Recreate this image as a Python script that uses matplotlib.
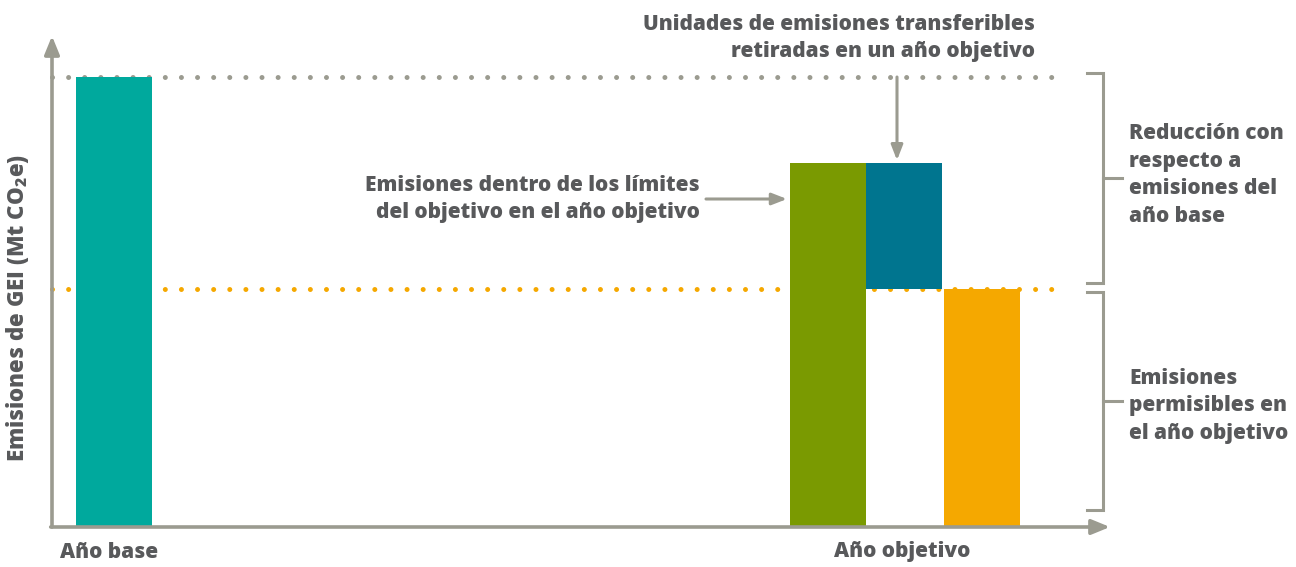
import matplotlib
matplotlib.use("Agg")
import matplotlib.pyplot as plt

plt.rcParams['font.family'] = ['Open Sans', 'DejaVu Sans']
plt.rcParams['mathtext.default'] = 'regular'

# ---- data ----
categories = ["Año base", "Año objetivo"]
base_emissions = 100.0          # año base
within_limits = 81.0            # emisiones dentro de los límites del objetivo
allowed_emissions = 53.0        # emisiones permisibles en el año objetivo
retired_units = within_limits - allowed_emissions

ylabel = "Emisiones de GEI (Mt CO$_2$e)"
txt_units = "Unidades de emisiones transferibles\nretiradas en un año objetivo"
txt_within = "Emisiones dentro de los límites\ndel objetivo en el año objetivo"
txt_reduction = "Reducción con\nrespecto a\nemisiones del\naño base"
txt_allowed = "Emisiones\npermisibles en\nel año objetivo"

# ---- style ----
C_TEAL = "#00A99D"
C_GREEN = "#7A9A01"
C_BLUE = "#00758F"
C_ORANGE = "#F5A800"
C_TEXT = "#58595B"
C_AXIS = "#9B9B90"
FS = 15
FW = 800
LS = 1.42

W, H = 1296, 567
fig = plt.figure(figsize=(W / 100, H / 100), dpi=100)

# axes in pixel layout: x from 52 to 1105, y from 527 (0) up to 40
ax_l, ax_r, ax_b, ax_t = 52, 1105, 527, 40
ax = fig.add_axes([ax_l / W, (H - ax_b) / H, (ax_r - ax_l) / W, (ax_b - ax_t) / H])
px_per_unit = 450 / base_emissions
ax.set_ylim(0, (ax_b - ax_t) / px_per_unit)
ax.set_xlim(0, ax_r - ax_l)
ax.axis('off')

def xp(px):
    return px - ax_l

def yp(py):
    return (ax_b - py) / px_per_unit

bw = 76
# bars
ax.bar(xp(114), base_emissions, width=bw, color=C_TEAL, zorder=3)
ax.bar(xp(828), within_limits, width=bw, color=C_GREEN, zorder=3)
ax.bar(xp(904), retired_units, bottom=allowed_emissions, width=bw, color=C_BLUE, zorder=3)
ax.bar(xp(982), allowed_emissions, width=bw, color=C_ORANGE, zorder=3)

# dotted reference lines
lw = 3.6
gap = 11.6 / lw
ax.plot([xp(52), xp(1062)], [base_emissions, base_emissions], color=C_AXIS, lw=lw,
        ls=(0, (0.001, gap)), dash_capstyle='round', zorder=1, clip_on=False)
ax.plot([xp(52), xp(1064)], [allowed_emissions, allowed_emissions], color=C_ORANGE, lw=lw,
        ls=(0, (0.001, gap)), dash_capstyle='round', zorder=1, clip_on=False)

# axes arrows
ax.annotate("", xy=(0, yp(36)), xytext=(0, 0), xycoords='data',
            arrowprops=dict(arrowstyle="-|>,head_length=1.1,head_width=0.45", color=C_AXIS, lw=2.6,
                            shrinkA=0, shrinkB=0), annotation_clip=False, zorder=4)
ax.annotate("", xy=(xp(1110), 0), xytext=(0 - 1.3, 0), xycoords='data',
            arrowprops=dict(arrowstyle="-|>,head_length=1.1,head_width=0.45", color=C_AXIS, lw=2.6,
                            shrinkA=0, shrinkB=0), annotation_clip=False, zorder=4)

# category labels
ax.text(xp(109), yp(552), categories[0], ha='center', va='center', fontsize=FS,
        fontweight=FW, color=C_TEXT)
ax.text(xp(902), yp(552), categories[1], ha='center', va='center', fontsize=FS,
        fontweight=FW, color=C_TEXT)

# y label
fig.text(18 / W, 1 - 308 / H, ylabel, rotation=90, ha='center', va='center',
         fontsize=16, fontweight=FW, color=C_TEXT)

# annotations
ax.text(xp(1035), yp(38), txt_units, ha='right', va='center', fontsize=FS,
        fontweight=FW, color=C_TEXT, linespacing=LS)
ax.annotate("", xy=(xp(897), within_limits + 0.5), xytext=(xp(897), base_emissions),
            arrowprops=dict(arrowstyle="-|>,head_length=0.9,head_width=0.35", color=C_AXIS, lw=2.2,
                            shrinkA=0, shrinkB=0), zorder=4)

ax.text(xp(700), yp(199), txt_within, ha='right', va='center', fontsize=FS,
        fontweight=FW, color=C_TEXT, linespacing=LS)
ax.annotate("", xy=(xp(787), yp(199)), xytext=(xp(706), yp(199)),
            arrowprops=dict(arrowstyle="-|>,head_length=0.9,head_width=0.35", color=C_AXIS, lw=2.2,
                            shrinkA=0, shrinkB=0), zorder=4)

# brackets
def bracket(top, bottom):
    y0, y1 = top, bottom
    ym = (y0 + y1) / 2
    xv = xp(1103)
    ax.plot([xp(1087), xv, xv, xp(1087)], [y0, y0, y1, y1], color=C_AXIS, lw=2.2,
            clip_on=False, solid_joinstyle='miter')
    ax.plot([xv, xp(1122)], [ym, ym], color=C_AXIS, lw=2.2, clip_on=False)
    return ym

bracket(base_emissions + 0.9, allowed_emissions + 1.3)
bracket(allowed_emissions - 0.7, yp(510))

ax.text(xp(1129), yp(175), txt_reduction, ha='left', va='center', fontsize=FS,
        fontweight=FW, color=C_TEXT, linespacing=LS)
ax.text(xp(1129), yp(406), txt_allowed, ha='left', va='center', fontsize=FS,
        fontweight=FW, color=C_TEXT, linespacing=LS)

fig.savefig("out.png", dpi=100)
